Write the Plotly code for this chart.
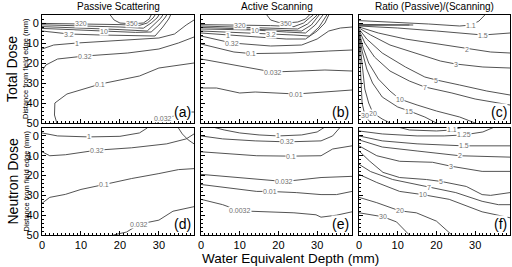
import plotly.graph_objects as go

# ---------------- data (contour polylines) ----------------
# Each panel: levels, x-lists (depth, mm), y-lists (distance, mm), label vertex index
A_LEVELS = ["350", "320", "100", "32", "10", "3.2", "1", "0.32", "0.1", "0.032"]
A_X = [[17.5, 18.5, 20, 23, 26, 27.5, 28],
       [0, 10, 20, 25, 27, 28.5, 29],
       [0, 12, 20, 26, 28, 29.5, 30],
       [0, 12, 20, 27, 29, 30.5, 31],
       [0, 8, 16, 24, 28, 30, 31.5, 32],
       [0, 7, 15, 24, 29, 31, 32.5, 33],
       [0, 3, 9, 18, 25, 30, 34, 37, 39],
       [0, 1, 4, 11, 22, 30, 35, 39],
       [3.8, 3.2, 3.3, 6.4, 15, 25, 30, 39],
       [29.5, 31, 34, 37, 39]]
A_Y = [[-4, -1.5, 0, 0.4, 0, -2, -4],
       [0.2, 0.4, 0.8, 1.2, 0, -2.5, -4],
       [0.9, 1.4, 2, 2.6, 0, -2.5, -4],
       [1.8, 2.6, 3.3, 4, 0.5, -2.5, -4],
       [2.7, 3.4, 4, 4.7, 4.5, 1, -2.5, -4],
       [4, 5.5, 6, 6.5, 6.5, 2, -2, -4],
       [13, 11, 10, 9, 8, 7.5, 5.5, 1, -1.5],
       [24, 21, 18, 16.5, 15, 13, 10, 7],
       [50, 46, 40, 35.5, 30.5, 26.5, 22.5, 20],
       [50, 47.5, 46.5, 44.5, 44.5]]
A_LAB = [3, 1, None, None, 2, 1, 2, 3, 4, 1]

B_LEVELS = ["350", "320", "100", "32", "10", "3.2", "1", "0.32", "0.1", "0.032", "0.01"]
B_X = [[17, 18, 20, 22, 25, 27, 28],
       [0, 10, 18, 24, 26.5, 28, 29],
       [0, 10, 18, 25, 27.5, 29, 30],
       [0, 10, 18, 26, 28.5, 30, 30.5],
       [0, 7, 14, 22, 27, 29.5, 31, 31.5],
       [0, 8, 18, 24, 28, 30.5, 32, 32.5],
       [0, 7, 15, 22, 27, 30, 32, 33],
       [0, 8, 18, 26, 30, 33, 36, 39],
       [0, 8.5, 13, 23, 33, 39],
       [0, 5.6, 12, 18.5, 25.6, 32, 39],
       [0, 4, 10, 14, 24.6, 32, 39]]
B_Y = [[-4, -1.5, -0.3, 0, -0.5, -2, -4],
       [0.8, 1, 1.3, 1.8, 0, -2.5, -4],
       [1.5, 2, 2.5, 3, 0.5, -2.5, -4],
       [2.2, 2.8, 3.3, 4, 1, -2.5, -4],
       [3, 3.3, 3.5, 4.5, 5, 1, -2.5, -4],
       [4, 4.5, 5.5, 6, 6.5, 2, -2.5, -4],
       [5, 6, 7, 8, 8, 4, 0, -4],
       [6.5, 10, 11.5, 11, 8, 4, 2.5, 2],
       [10.5, 14.5, 15.3, 15, 14, 13.5],
       [18, 20, 22.5, 24.5, 24, 23.5, 24],
       [32.5, 32.5, 35, 34.5, 35.5, 34.5, 33.5]]
B_LAB = [3, 1, None, None, 2, 2, 1, 1, 2, 3, 4]

C_LEVELS = ["1", "1", "1.1", "1.5", "2", "3", "5", "7", "10", "15", "20", "30"]
C_X = [[0, 6, 12, 14],
       [0, 6, 11, 13],
       [0, 8, 18, 26, 29, 31, 32.5],
       [0, 10, 20, 28, 32, 39],
       [0, 5, 12, 20, 28, 34, 39],
       [0, 3, 8, 15, 21, 25, 32, 39],
       [0, 2, 6, 12, 17, 20, 26, 33, 39],
       [0, 1.5, 4, 8, 13, 17, 24, 30, 39],
       [0, 1, 2.5, 5, 8, 10.5, 15, 20, 26, 30],
       [0, 0.8, 2, 3.5, 6, 10, 13, 17, 20],
       [0, 0.5, 1, 1.5, 2.5, 3.6, 6, 8],
       [0, 0.3, 0.5, 0.8, 1.5, 3]]
C_Y = [[0.7, 0.8, 1, 1],
       [1.2, 1.1, 1, 1],
       [-1.2, -0.5, 0.5, 1.5, 1, -1, -4],
       [1.5, 2.5, 4, 5.5, 6, 5],
       [2, 5, 8, 10.5, 13, 14.5, 15],
       [2.5, 6, 11, 15.5, 19, 20.5, 22, 22.5],
       [3, 8, 15, 22, 27, 28.5, 31, 34, 36],
       [3.5, 10, 17, 24, 29, 32, 35, 38, 41],
       [4, 12, 20, 28, 34, 38, 41, 44, 47, 50],
       [5, 14, 23, 30, 37, 42, 44, 47, 50],
       [6, 15, 25, 33, 40, 45, 48, 50],
       [8, 20, 30, 40, 46, 50]]
C_LAB = [None, None, 4, 4, 4, 5, 5, 5, 5, 6, 5, 4]

D_LEVELS = ["1", "1", "0.32", "0.1", "0.032"]
D_X = [[0, 4, 12, 20, 25, 27],
       [35, 36, 37.5, 39],
       [0, 2, 6, 14, 23, 32, 37, 39],
       [0, 2, 6, 10, 16, 23, 30, 35, 39],
       [18.3, 21.7, 25, 30, 33.6, 39]]
D_Y = [[-1.5, 0, 0.5, 0.2, -1.5, -4],
       [-4, -1, 2, 4],
       [8, 10, 9.5, 7.2, 6, 4, 1.5, -1],
       [34, 31, 29.5, 27, 24.5, 21.5, 19, 17, 16.5],
       [50, 48.5, 44.5, 42.5, 38, 35.7]]
D_LAB = [2, None, 3, 4, 2]

E_LEVELS = ["1", "0.32", "0.1", "0.032", "0.01", "0.0032"]
E_X = [[3, 6, 10, 15, 20, 26, 30, 32],
       [0, 5.6, 14, 22.3, 31, 34, 36],
       [0, 5.6, 14.4, 23.3, 31, 34, 39],
       [0, 5.6, 14.4, 21.5, 31, 39],
       [0, 5.6, 14.4, 17.7, 24.6, 31, 35, 39],
       [0, 5.6, 10, 17, 24, 29.7, 31, 35, 39]]
E_Y = [[-4.5, -3, -1.5, -0.5, 0, -0.5, -2, -4.5],
       [0, 1.5, 2.5, 3, 2.5, 0, -4.5],
       [8, 8.8, 10, 10.2, 10, 6.6, 5],
       [19.4, 20.4, 22, 23, 21, 20.4],
       [24.5, 26, 28, 28, 28.6, 29.6, 29.6, 28],
       [32, 34.7, 37.8, 38.3, 38.8, 39.8, 41, 40, 38.3]]
E_LAB = [4, 3, 3, 3, 3, 2]

F_LEVELS = ["1.1", "1.25", "1.5", "2", "3", "5", "7", "10", "20", "30"]
F_X = [[10, 13, 20, 24, 27],
       [0, 6, 15, 22, 27, 32, 35],
       [0, 6, 15, 27, 39],
       [0, 6, 15, 23, 26, 39],
       [0, 4.6, 10.5, 19, 23.8, 31.8, 39],
       [0, 2.8, 6.2, 10.5, 17.4, 21.3, 27.7, 31.8, 34, 39],
       [0, 3, 8.7, 14.8, 18.2, 25, 31.8, 36, 39],
       [0, 4.6, 10.5, 16.4, 23.3, 31.8, 39],
       [0, 4.6, 10.5, 14.8, 20, 23.3, 24],
       [0, 6.2, 9.7, 11.3, 13]]
F_Y = [[-4.5, -3, -2.5, -3, -4.5],
       [-2.5, -1, 0, 0, -0.5, -2, -4.5],
       [0, 2.5, 4, 5, 5],
       [2, 5.6, 7.6, 9.2, 10, 10.7],
       [5, 10, 12.8, 13.3, 15.3, 17.9, 17.9],
       [7.6, 12.8, 18.4, 21, 22, 23, 25.5, 29.6, 30, 28.6],
       [14.3, 18, 22, 24.5, 26, 28.6, 33, 34.7, 34.7],
       [19.4, 23.5, 28, 29.6, 32, 38.3, 41.3],
       [31, 33.7, 37.8, 38.8, 43, 48.5, 50],
       [38.8, 40.8, 43.4, 46.4, 50]]
F_LAB = [3, 4, 3, 4, 4, 5, 4, 3, 2, 1]

COL_TITLES = ["Passive Scattering", "Active Scanning", "Ratio (Passive)/(Scanning)"]
ROW_TITLES = ["Total Dose", "Neutron Dose"]
PANEL_TAGS = ["(a)", "(b)", "(c)", "(d)", "(e)", "(f)"]
X_TICKS = [0, 10, 20, 30]
Y_TICKS = [0, 10, 20, 30, 40, 50]

PANELS = [(A_LEVELS, A_X, A_Y, A_LAB), (B_LEVELS, B_X, B_Y, B_LAB),
          (C_LEVELS, C_X, C_Y, C_LAB), (D_LEVELS, D_X, D_Y, D_LAB),
          (E_LEVELS, E_X, E_Y, E_LAB), (F_LEVELS, F_X, F_Y, F_LAB)]

# ---------------- layout geometry ----------------
W, H = 512, 267
XDOM = [(42 / W, 194 / W), (201 / W, 352 / W), (359 / W, 510 / W)]
YDOM = [(1 - 123 / H, 1 - 15 / H), (1 - 235 / H, 1 - 128 / H)]
FONT = "Liberation Sans, Arial, sans-serif"

fig = go.Figure()
annotations = []
layout = {}

for p, (levels, xs, ys, labs) in enumerate(PANELS):
    r, c = divmod(p, 3)
    n = p + 1
    xa = "x" if n == 1 else f"x{n}"
    ya = "y" if n == 1 else f"y{n}"
    for lev, x, y, li in zip(levels, xs, ys, labs):
        fig.add_trace(go.Scatter(x=x, y=y, mode="lines", xaxis=xa, yaxis=ya,
                                 line=dict(color="#404040", width=0.9),
                                 showlegend=False, hoverinfo="skip"))
        if li is not None:
            annotations.append(dict(x=x[li], y=y[li], xref=xa, yref=ya, text=lev,
                                    showarrow=False, bgcolor="white", borderpad=0,
                                    xanchor="center", yanchor="middle",
                                    font=dict(size=7, color="#707070", family=FONT)))
    annotations.append(dict(x=0.985, y=0.015, xref=f"{xa} domain", yref=f"{ya} domain",
                            text=PANEL_TAGS[p], showarrow=False, xanchor="right",
                            yanchor="bottom", bgcolor="white", borderpad=0,
                            font=dict(size=14, color="black", family=FONT)))
    common = dict(showline=True, linecolor="black", linewidth=1, mirror=True,
                  ticks="inside", ticklen=4, tickcolor="black", showgrid=False,
                  zeroline=False, automargin=False,
                  tickfont=dict(size=11, color="black", family=FONT))
    layout["xaxis" if n == 1 else f"xaxis{n}"] = dict(
        common, domain=list(XDOM[c]), range=[0, 39], anchor=ya,
        tickvals=X_TICKS, showticklabels=(r == 1),
        minor=dict(dtick=1, ticks="inside", ticklen=2, tickcolor="black"))
    layout["yaxis" if n == 1 else f"yaxis{n}"] = dict(
        common, domain=list(YDOM[r]), range=[50, -4], anchor=xa,
        tickvals=Y_TICKS, showticklabels=(c == 0),
        minor=dict(dtick=2, ticks="inside", ticklen=2, tickcolor="black"))

for c, t in enumerate(COL_TITLES):
    annotations.append(dict(x=(XDOM[c][0] + XDOM[c][1]) / 2, y=1 - 7 / H, xref="paper",
                            yref="paper", text=t, showarrow=False,
                            xanchor="center", yanchor="middle",
                            font=dict(size=10, color="black", family=FONT)))
for r, t in enumerate(ROW_TITLES):
    yc = (YDOM[r][0] + YDOM[r][1]) / 2
    annotations.append(dict(x=12 / W, y=yc, xref="paper", yref="paper", text=t,
                            textangle=-90, showarrow=False,
                            xanchor="center", yanchor="middle",
                            font=dict(size=14, color="black", family=FONT)))
    annotations.append(dict(x=26 / W, y=yc, xref="paper", yref="paper",
                            text="Distance from field edge (mm)", textangle=-90,
                            showarrow=False, xanchor="center", yanchor="middle",
                            font=dict(size=7.5, color="black", family=FONT)))
annotations.append(dict(x=290 / W, y=1 - 258 / H, xref="paper", yref="paper",
                        text="Water Equivalent Depth (mm)", showarrow=False,
                        xanchor="center", yanchor="middle",
                        font=dict(size=13.5, color="black", family=FONT)))

fig.update_layout(width=W, height=H, margin=dict(l=0, r=0, t=0, b=0),
                  paper_bgcolor="white", plot_bgcolor="white", hovermode=False,
                  annotations=annotations, **layout)
fig.write_html("out.html", config={"displayModeBar": False, "staticPlot": True},
               post_script="document.body.style.margin='0px';"
                           "document.body.style.overflow='hidden';")
